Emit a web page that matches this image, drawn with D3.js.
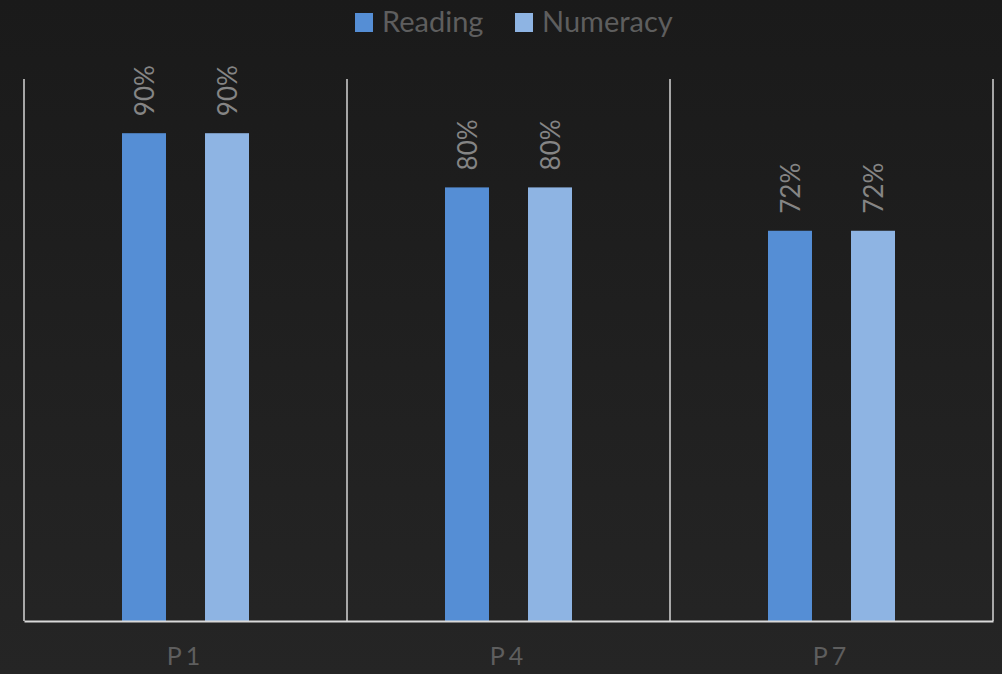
<!DOCTYPE html>
<html>
<head>
<meta charset="utf-8">
<script src="https://cdn.jsdelivr.net/npm/d3@7"></script>
<style>
  html, body { margin: 0; padding: 0; background: #1f1f1f; }
  svg { display: block; }
</style>
</head>
<body>
<svg id="chart"></svg>
<script>
// data
const categories = ["P1", "P4", "P7"];
const seriesNames = ["Reading", "Numeracy"];
const reading = [0.90, 0.80, 0.72];
const numeracy = [0.90, 0.80, 0.72];
const seriesColors = ["#558ed5", "#8eb4e3"];

const W = 1002, H = 674;
const margin = {top: 79, right: 9, bottom: 53, left: 24};
const innerW = W - margin.left - margin.right;
const innerH = H - margin.top - margin.bottom;

const rows = categories.map((c, i) => ({cat: c, values: [reading[i], numeracy[i]]}));

const svg = d3.select("#chart").attr("width", W).attr("height", H);

// background gradient
const defs = svg.append("defs");
const grad = defs.append("linearGradient").attr("id", "bg")
  .attr("x1", 0).attr("y1", 0).attr("x2", 0).attr("y2", 1);
grad.append("stop").attr("offset", "0%").attr("stop-color", "#1a1a1a");
grad.append("stop").attr("offset", "100%").attr("stop-color", "#252525");
svg.append("rect").attr("width", W).attr("height", H).attr("fill", "url(#bg)");

const x0 = d3.scaleBand().domain(categories).range([0, innerW]).paddingInner(0).paddingOuter(0);
const x1 = d3.scaleBand().domain(seriesNames).range([98, 225]).paddingInner(0.47);
const y = d3.scaleLinear().domain([0, 1]).range([innerH, 0]);

const g = svg.append("g").attr("transform", `translate(${margin.left},${margin.top})`);

// vertical separators between categories
const seps = categories.map(c => x0(c)).concat([innerW]);
g.selectAll(".sep").data(seps).enter().append("line")
  .attr("x1", d => d).attr("x2", d => d)
  .attr("y1", 0).attr("y2", innerH)
  .attr("stroke", "#d4d4d4").attr("stroke-width", 1.5);

// bars
const groups = g.selectAll(".grp").data(rows).enter().append("g")
  .attr("transform", d => `translate(${x0(d.cat)},0)`);

groups.selectAll("rect").data(d => d.values.map((v, i) => ({name: seriesNames[i], v: v, i: i})))
  .enter().append("rect")
  .attr("x", d => x1(d.name))
  .attr("width", x1.bandwidth())
  .attr("y", d => y(d.v))
  .attr("height", d => innerH - y(d.v))
  .attr("fill", d => seriesColors[d.i]);

// value labels, rotated
groups.selectAll("text.val").data(d => d.values.map((v, i) => ({name: seriesNames[i], v: v})))
  .enter().append("text")
  .attr("class", "val")
  .attr("transform", d => `translate(${x1(d.name) + x1.bandwidth() / 2 + 1},${y(d.v) - 17}) rotate(-90)`)
  .attr("dy", "0.35em")
  .attr("text-anchor", "start")
  .attr("fill", "#858585")
  .style("font-family", "Lato, 'Open Sans', sans-serif")
  .style("font-size", "26px")
  .text(d => d3.format(".0%")(d.v));

// x axis
const xAxis = g.append("g").attr("transform", `translate(0,${innerH})`)
  .call(d3.axisBottom(x0).tickSize(0).tickPadding(26));
xAxis.select(".domain").attr("stroke", "#d9d9d9").attr("stroke-width", 2);
xAxis.selectAll("text")
  .attr("fill", "#5e5e5e")
  .style("font-family", "Lato, 'Open Sans', sans-serif")
  .style("font-size", "25px")
  .style("letter-spacing", "4px");

// legend
const legend = svg.append("g").attr("transform", "translate(355,13)");
const legX = [0, 160];
seriesNames.forEach((s, i) => {
  const lg = legend.append("g").attr("transform", `translate(${legX[i]},0)`);
  lg.append("rect").attr("width", 18).attr("height", 19).attr("fill", seriesColors[i]);
  lg.append("text").attr("x", 27).attr("y", 19)
    .attr("fill", "#5e5e5e")
    .style("font-family", "Lato, 'Open Sans', sans-serif")
    .style("font-size", "29px")
    .text(s);
});
</script>
</body>
</html>
